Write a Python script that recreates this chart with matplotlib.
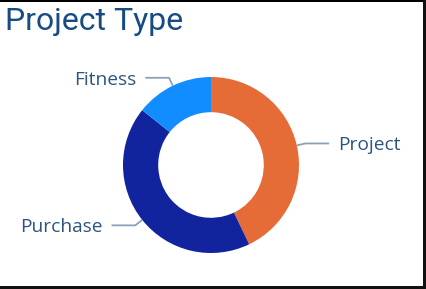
import matplotlib.pyplot as plt
import numpy as np
from matplotlib.patches import Rectangle

# Project type counts (clockwise from 12 o'clock)
categories = ["Project", "Purchase", "Fitness"]
counts = [6, 6, 2]
colors = ["#E66C37", "#12239E", "#118DFF"]

plt.rcParams['font.family'] = ['Open Sans', 'DejaVu Sans']

fig = plt.figure(figsize=(4.26, 2.89), dpi=100)
ax = fig.add_axes([0, 0, 1, 1])

wedges, _ = ax.pie(counts, colors=colors, startangle=90, counterclock=False,
                   radius=1.0, wedgeprops=dict(width=0.4, edgecolor='none'))

# leader lines and labels
line_color = "#8AA1B9"
text_color = "#2B5580"
for w, name in zip(wedges, categories):
    mid = np.deg2rad((w.theta1 + w.theta2) / 2)
    x0, y0 = np.cos(mid), np.sin(mid)
    x1, y1 = 1.1 * x0, 1.1 * y0
    side = 1 if x0 > 0 else -1
    x2 = x1 + side * 0.27
    ax.plot([x0, x1, x2], [y0, y1, y1], color=line_color, lw=1.3,
            solid_capstyle='butt')
    ax.text(x2 + side * 0.1, y1 - 0.02, name, color=text_color, fontsize=13.8,
            ha='left' if side > 0 else 'right', va='center')

ax.set_aspect('auto')
ax.set_xlim(-211 / 88, 215 / 88)
ax.set_ylim(-124 / 88, 165 / 88)
ax.axis('off')

fig.text(0.012, 0.975, "Project Type", fontsize=23, color="#174B84",
         ha='left', va='top', family=['Roboto', 'DejaVu Sans'])

# frame border (top, right, bottom)
fig.add_artist(Rectangle((0, 1 - 1.5 / 289), 1, 1.5 / 289, transform=fig.transFigure,
                         color='black', lw=0))
fig.add_artist(Rectangle((1 - 3.5 / 426, 0), 3.5 / 426, 1, transform=fig.transFigure,
                         color='#111111', lw=0))
fig.add_artist(Rectangle((0, 0), 1, 3 / 289, transform=fig.transFigure,
                         color='#111111', lw=0))

fig.savefig("out.png", dpi=100)
